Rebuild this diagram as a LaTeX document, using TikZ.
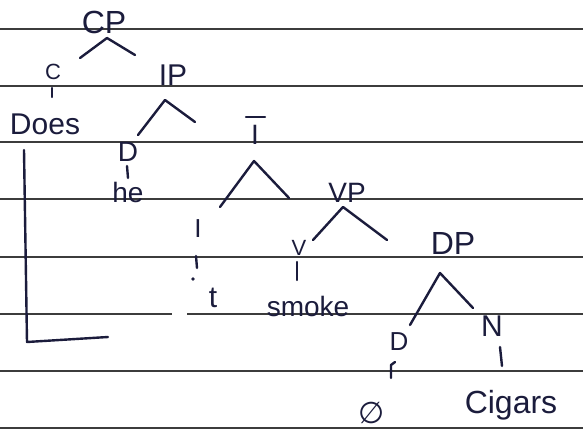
\documentclass[tikz,border=0pt]{standalone}
\usepackage{fontspec}
\setmainfont{Liberation Sans}
\newfontfamily\symfont{DejaVu Sans}
\begin{document}
\begin{tikzpicture}[x=1pt,y=-1pt,
  ink/.style={draw=inkc,line width=2.4pt,line cap=round,line join=round},
  rule/.style={draw=rulec,line width=1.6pt},
  lab/.style={text=inkc,inner sep=0pt,anchor=center},
]
\definecolor{inkc}{HTML}{1B1C3C}
\definecolor{rulec}{HTML}{3C3C3C}
\fill[white] (0,0) rectangle (583,433);
\useasboundingbox (0,0) rectangle (583,433);
% ruled lines
\foreach \yy in {29,86,142,199,257,371,428}{
  \draw[rule] (0,\yy) -- (583,\yy);
}
\draw[rule] (0,314) -- (172,314);
\draw[rule] (187,314) -- (583,314);

% labels
\node[lab,font=\fontsize{32}{34}\selectfont] (CP) at (104,22) {CP};
\node[lab,font=\fontsize{22}{24}\selectfont] (C) at (53,72) {C};
\node[lab,font=\fontsize{30}{32}\selectfont] (Does) at (45,124) {Does};
\node[lab,font=\fontsize{30}{32}\selectfont] (IP) at (173,75) {IP};
\node[lab,font=\fontsize{28}{30}\selectfont] (D1) at (128,152) {D};
\node[lab,font=\fontsize{28}{30}\selectfont] (he) at (128,192) {he};
\node[lab,font=\fontsize{28}{30}\selectfont] (Ibar) at (255,135) {I};
\node[lab,font=\fontsize{26}{28}\selectfont] (I2) at (198,229) {I};
\node[lab,font=\fontsize{30}{32}\selectfont] (t) at (213,298) {t};
\node[lab,font=\fontsize{28}{30}\selectfont] (VP) at (347,193) {VP};
\node[lab,font=\fontsize{22}{24}\selectfont] (V) at (299,248) {V};
\node[lab,font=\fontsize{28}{30}\selectfont] (smoke) at (308,306) {smoke};
\node[lab,font=\fontsize{32}{34}\selectfont] (DP) at (453,243) {DP};
\node[lab,font=\fontsize{26}{28}\selectfont] (D2) at (399,342) {D};
\node[lab,font=\symfont\fontsize{30}{32}\selectfont] (empty) at (372,413) {∅};
\node[lab,font=\fontsize{30}{32}\selectfont] (N) at (492,326) {N};
\node[lab,font=\fontsize{32}{34}\selectfont] (Cigars) at (511,405) {Cigars};

% bar over I-bar
\coordinate (barL) at (246,117); \coordinate (barR) at (265,117);
\draw[ink] (barL) -- (barR);

% branch points
\coordinate (cpA) at (107,38);  \coordinate (cpL) at (80,58);  \coordinate (cpR) at (135,55);
\coordinate (ipA) at (165,100); \coordinate (ipL) at (138,135); \coordinate (ipR) at (195,122);
\coordinate (ibA) at (254,161); \coordinate (ibL) at (220,207); \coordinate (ibR) at (289,198);
\coordinate (vpA) at (343,207); \coordinate (vpL) at (313,240); \coordinate (vpR) at (387,240);
\coordinate (dpA) at (440,273); \coordinate (dpL) at (410,325); \coordinate (dpR) at (473,308);

\draw[ink] (cpL) -- (cpA) -- (cpR);
\draw[ink] (ipL) -- (ipA) -- (ipR);
\draw[ink] (ibL) -- (ibA) -- (ibR);
\draw[ink] (vpL) -- (vpA) -- (vpR);
\draw[ink] (dpL) -- (dpA) -- (dpR);

% unary ticks
\coordinate (cT) at (52,88);   \coordinate (cB) at (52,97);
\coordinate (d1T) at (127,166); \coordinate (d1B) at (128,178);
\coordinate (i2T) at (196,256); \coordinate (i2B) at (197,268);
\coordinate (i2D) at (193,279);
\coordinate (vT) at (297,262);  \coordinate (vB) at (297,280);
\coordinate (d2T) at (395,362); \coordinate (d2M) at (391,365); \coordinate (d2B) at (391,378);
\coordinate (nT) at (500,347);  \coordinate (nB) at (502,366);
\draw[ink] (cT) -- (cB);
\draw[ink] (d1T) -- (d1B);
\draw[ink] (i2T) -- (i2B);
\fill[inkc] (i2D) circle (1.8);
\draw[ink] (vT) -- (vB);
\draw[ink] (d2T) -- (d2M) -- (d2B);
\draw[ink] (nT) -- (nB);

% L-shaped bracket
\coordinate (lTop) at (24,150); \coordinate (lCorner) at (27,342); \coordinate (lEnd) at (108,337);
\draw[ink] (lTop) -- (lCorner) -- (lEnd);
\end{tikzpicture}
\end{document}
